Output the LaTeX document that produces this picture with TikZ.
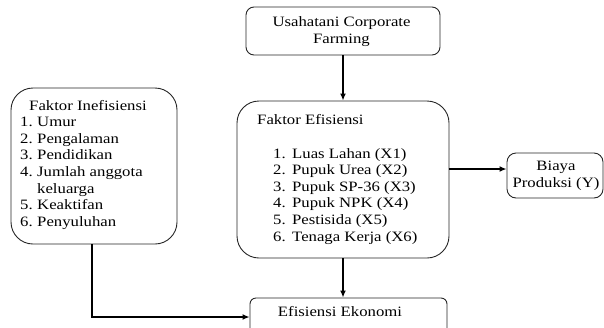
\documentclass[tikz,border=0pt]{standalone}
\usepackage{fontspec}
\setmainfont{Liberation Serif}[FakeStretch=1.17]
\usetikzlibrary{arrows.meta}
\begin{document}
\begin{tikzpicture}[x=1pt,y=-1pt,
  box/.style={draw=black!85, line width=0.9pt, inner sep=0pt},
  arr/.style={draw=black, line width=1.5pt, -{Latex[length=7pt,width=6pt]}},
  txt/.style={inner sep=0pt, font=\fontsize{14.3}{16.6}\selectfont, text=black}]
\useasboundingbox (0,0) rectangle (604,327);
\clip (0,0) rectangle (604,327);
% boxes
\node[box, rounded corners=8pt, minimum width=194pt, minimum height=48pt] (top) at (343,31) {};
\node[box, rounded corners=22pt, minimum width=166pt, minimum height=156pt] (left) at (94,166) {};
\node[box, rounded corners=22pt, minimum width=212pt, minimum height=157pt] (mid) at (343,179.5) {};
\node[box, rounded corners=9pt, minimum width=96pt, minimum height=45pt] (biaya) at (555,175.5) {};
\node[box, rounded corners=6pt, minimum width=197pt, minimum height=38pt] (bot) at (348.5,317) {};
% texts
\node[txt, anchor=base] (topT) at (341.5,26.7) {\begin{tabular}[t]{@{}c@{}}Usahatani Corporate\\Farming\end{tabular}};
\node[txt, anchor=base west] (inefT) at (20,110) {\begin{tabular}[t]{@{}l@{}}
\hspace*{9pt}Faktor Inefisiensi\\
\makebox[17pt][l]{1.}Umur\\
\makebox[17pt][l]{2.}Pengalaman\\
\makebox[17pt][l]{3.}Pendidikan\\
\makebox[17pt][l]{4.}Jumlah anggota\\
\hspace*{17pt}keluarga\\
\makebox[17pt][l]{5.}Keaktifan\\
\makebox[17pt][l]{6.}Penyuluhan
\end{tabular}};
\node[txt, anchor=base west] (efT) at (257,124) {Faktor Efisiensi};
\node[txt, anchor=base west] (efL) at (273,158) {\begin{tabular}[t]{@{}l@{}}
\makebox[19pt][l]{1.}Luas Lahan (X1)\\
\makebox[19pt][l]{2.}Pupuk Urea (X2)\\
\makebox[19pt][l]{3.}Pupuk SP-36 (X3)\\
\makebox[19pt][l]{4.}Pupuk NPK (X4)\\
\makebox[19pt][l]{5.}Pestisida (X5)\\
\makebox[19pt][l]{6.}Tenaga Kerja (X6)
\end{tabular}};
\node[txt, anchor=base] (biayaT) at (556,170.5) {\begin{tabular}[t]{@{}c@{}}Biaya\\Produksi (Y)\end{tabular}};
\node[txt, anchor=base] (botT) at (340,316) {Efisiensi Ekonomi};
% connectors
\coordinate (bin) at ([yshift=6.5pt]biaya.west);
\draw[arr] (top.south) -- (mid.north);
\draw[arr] (mid.south) -- (mid.south |- bot.north);
\draw[arr] (mid.east |- bin) -- (bin);
\draw[arr] ([xshift=-2pt]left.south) |- (bot.west);
\end{tikzpicture}
\end{document}
